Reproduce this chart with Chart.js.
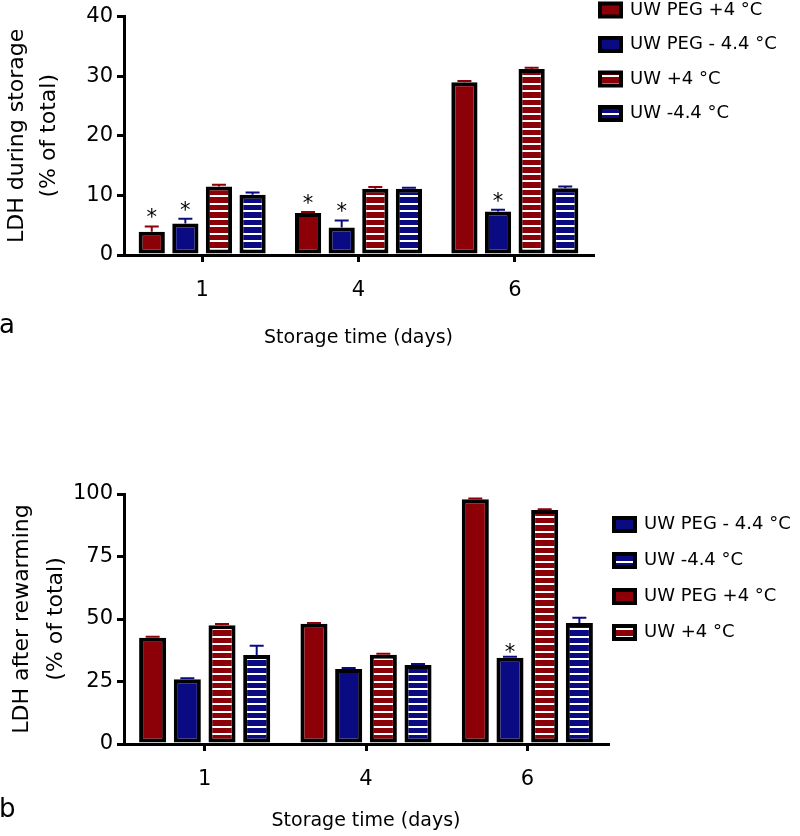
<!DOCTYPE html>
<html>
<head>
<meta charset="utf-8">
<script src="https://cdn.jsdelivr.net/npm/chart.js@4"></script>
<style>
  body { margin: 0; background: #fff; }
  .panel { position: absolute; left: 0; }
  .tag { position: absolute; left: -1px; font: 26px/26px "DejaVu Sans"; color: #000; }
</style>
</head>
<body>
<div class="panel" style="top:0"><canvas id="storage" width="800" height="360"></canvas></div>
<div class="tag" style="top:311px">a</div>
<div class="panel" style="top:418px"><canvas id="rewarm" width="800" height="418"></canvas></div>
<div class="tag" style="top:795px">b</div>
<script>
"use strict";

let days = ['1', '4', '6'];
let seriesNames = ['UW PEG +4 °C', 'UW PEG - 4.4 °C', 'UW +4 °C', 'UW -4.4 °C'];

// panel a: LDH during storage
let storPegWarm = [3.9, 7.05, 29.0];
let storPegCold = [5.3, 4.6, 7.3];
let storUwWarm = [11.5, 11.1, 31.2];
let storUwCold = [10.1, 11.1, 11.2];
let storPegWarmErr = [0.9, 0.15, 0.2];
let storPegColdErr = [0.8, 1.2, 0.3];
let storUwWarmErr = [0.3, 0.3, 0.2];
let storUwColdErr = [0.4, 0.2, 0.3];
let storPegWarmStar = [true, true, false];
let storPegColdStar = [true, true, true];
let storLegendOrder = [0, 1, 2, 3];

// panel b: LDH after rewarming
let rewPegWarm = [42.5, 48.1, 97.9];
let rewPegCold = [25.9, 30.0, 34.5];
let rewUwWarm = [47.5, 35.7, 93.6];
let rewUwCold = [35.6, 31.6, 48.4];
let rewPegWarmErr = [0.4, 0.3, 0.3];
let rewPegColdErr = [0.4, 0.4, 0.4];
let rewUwWarmErr = [0.5, 0.4, 0.3];
let rewUwColdErr = [3.7, 0.4, 2.1];
let rewPegWarmStar = [false, false, false];
let rewPegColdStar = [false, false, true];
let rewLegendOrder = [1, 3, 0, 2];

let red = '#8c0008';
let blue = '#0a0a82';
let font = 'DejaVu Sans';
let edge = 4;

function stripes(color) {
  let c = document.createElement('canvas');
  c.width = 8;
  c.height = 15;
  let g = c.getContext('2d');
  g.fillStyle = color;
  g.fillRect(0, 0, 8, 15);
  g.fillStyle = '#fff';
  g.fillRect(0, 0, 8, 2);
  g.fillRect(0, 8, 8, 2);
  return g.createPattern(c, 'repeat');
}

function makeSets(vals, errs, stars) {
  let fills = [red, blue, stripes(red), stripes(blue)];
  let lines = [red, blue, red, blue];
  return vals.map(function (v, i) {
    return {
      label: seriesNames[i],
      data: v,
      errors: errs[i],
      stars: stars[i] || [],
      errorColor: lines[i],
      backgroundColor: fills[i],
    };
  });
}

// error bars and asterisks, placed from the y scale
let errorBars = {
  id: 'errorBars',
  afterDatasetsDraw(chart, args, opts) {
    let ctx = chart.ctx;
    let y = chart.scales.y;
    chart.data.datasets.forEach(function (ds, i) {
      chart.getDatasetMeta(i).data.forEach(function (bar, j) {
        let top = y.getPixelForValue(ds.data[j] + ds.errors[j]);
        ctx.save();
        ctx.strokeStyle = ds.errorColor;
        ctx.lineWidth = 2;
        ctx.beginPath();
        ctx.moveTo(bar.x, bar.y);
        ctx.lineTo(bar.x, top);
        ctx.moveTo(bar.x - 7, top);
        ctx.lineTo(bar.x + 7, top);
        ctx.stroke();
        if (ds.stars[j]) {
          ctx.fillStyle = '#000';
          ctx.font = '21px "' + font + '"';
          ctx.textAlign = 'center';
          ctx.textBaseline = 'alphabetic';
          ctx.fillText('*', bar.x, top - opts.starGap + 13);
        }
        ctx.restore();
      });
    });
  }
};

// move the legend box outside the plot, to the right
let placeLegend = {
  id: 'placeLegend',
  afterLayout(chart, args, opts) {
    let lg = chart.legend;
    lg.left = opts.boxLeft + edge / 2 - opts.pad;
    lg.right = lg.left + 260;
    lg.width = 260;
    lg.top = opts.firstRow - opts.size / 2 - opts.pad;
    lg.bottom = lg.top + 200;
    lg.height = 200;
  }
};

function makeChart(id, o) {
  return new Chart(document.getElementById(id), {
    type: 'bar',
    data: { labels: days, datasets: o.sets },
    options: {
      responsive: false,
      animation: false,
      layout: { padding: { left: 0, right: o.padRight, top: o.padTop, bottom: 0 } },
      datasets: {
        bar: { categoryPercentage: 0.86, barPercentage: 0.78, borderWidth: edge, borderColor: '#000', borderSkipped: false }
      },
      scales: {
        x: {
          grid: { offset: false, drawOnChartArea: false, tickLength: 7, color: '#000', lineWidth: 3 },
          border: { color: '#000', width: 3 },
          ticks: { color: '#000', font: { family: font, size: 21 }, padding: 16 },
          title: {
            display: true, text: 'Storage time (days)', color: '#000',
            font: { family: font, size: 19 }, padding: { top: 0, bottom: o.xTitlePad }
          },
          afterFit: function (s) { s.height = o.xHeight; }
        },
        y: {
          min: 0,
          max: o.yMax,
          ticks: { stepSize: o.yStep, color: '#000', font: { family: font, size: 21 }, padding: 4 },
          grid: { drawOnChartArea: false, tickLength: 7, color: '#000', lineWidth: 3 },
          border: { color: '#000', width: 3 },
          title: {
            display: true, text: o.yTitle, color: '#000',
            font: { family: font, size: 22, lineHeight: o.yTitleLine },
            padding: { top: o.yTitlePad, bottom: 0 }
          },
          afterFit: function (s) { s.width = 124; }
        }
      },
      plugins: {
        legend: {
          position: 'chartArea',
          align: 'start',
          labels: {
            color: '#000',
            font: { family: font, size: 18 },
            boxWidth: 21,
            boxHeight: 13,
            padding: o.legendPad,
            sort: function (a, b) {
              return o.order.indexOf(a.datasetIndex) - o.order.indexOf(b.datasetIndex);
            }
          }
        },
        tooltip: { enabled: false },
        placeLegend: { boxLeft: o.boxLeft, firstRow: o.firstRow, pad: o.legendPad, size: 18 },
        errorBars: { starGap: o.starGap }
      }
    },
    plugins: [placeLegend, errorBars]
  });
}

makeChart('storage', {
  sets: makeSets(
    [storPegWarm, storPegCold, storUwWarm, storUwCold],
    [storPegWarmErr, storPegColdErr, storUwWarmErr, storUwColdErr],
    [storPegWarmStar, storPegColdStar]
  ),
  order: storLegendOrder,
  padRight: 207,
  padTop: 15,
  xHeight: 105,
  xTitlePad: 10.6,
  yMax: 40,
  yStep: 10,
  yTitle: ['LDH during storage', '(% of total)'],
  yTitleLine: 1.455,
  yTitlePad: 1.4,
  legendPad: 16.5,
  boxLeft: 598,
  firstRow: 10,
  starGap: 15
});

makeChart('rewarm', {
  sets: makeSets(
    [rewPegWarm, rewPegCold, rewUwWarm, rewUwCold],
    [rewPegWarmErr, rewPegColdErr, rewUwWarmErr, rewUwColdErr],
    [rewPegWarmStar, rewPegColdStar]
  ),
  order: rewLegendOrder,
  padRight: 192,
  padTop: 76,
  xHeight: 92,
  xTitlePad: 3.6,
  yMax: 100,
  yStep: 25,
  yTitle: ['LDH after rewarming', '(% of total)'],
  yTitleLine: 1.545,
  yTitlePad: 5.4,
  legendPad: 18,
  boxLeft: 612,
  firstRow: 106.5,
  starGap: 11
});
</script>
</body>
</html>
